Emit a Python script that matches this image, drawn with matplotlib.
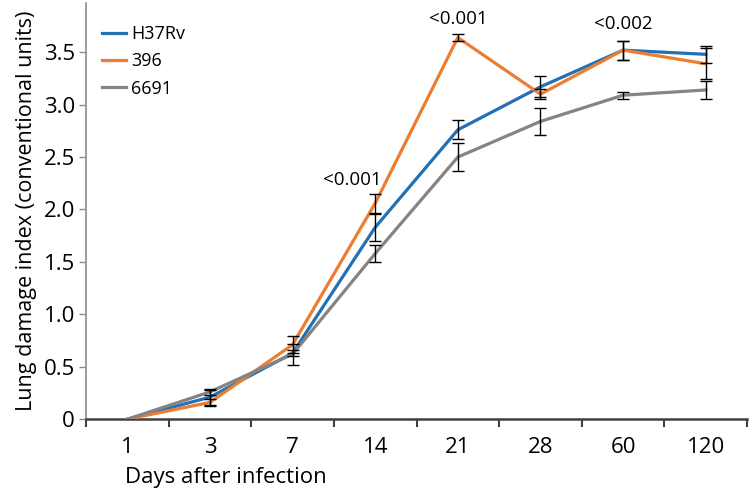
import numpy as np
import matplotlib
matplotlib.use("Agg")
import matplotlib.pyplot as plt
from matplotlib.ticker import FixedLocator, NullFormatter, FixedFormatter

plt.rcParams['font.family'] = ['Open Sans', 'DejaVu Sans']

# Data
days = ['1', '3', '7', '14', '21', '28', '60', '120']
h37rv = [0, 0.21, 0.63, 1.83, 2.76, 3.17, 3.52, 3.48]
h37rv_err = [0, 0.07, 0.03, 0.13, 0.09, 0.10, 0.09, 0.08]
s396 = [0, 0.16, 0.71, 2.06, 3.64, 3.10, 3.52, 3.39]
s396_err = [0, 0.03, 0.08, 0.09, 0.03, 0.05, 0.09, 0.15]
s6691 = [0, 0.26, 0.62, 1.58, 2.50, 2.84, 3.09, 3.14]
s6691_err = [0, 0.03, 0.10, 0.08, 0.13, 0.13, 0.035, 0.09]

pvals = ['<0.001', '<0.001', '<0.002']
pval_pos = [(2.72, 2.28), (4.0, 3.82), (6.0, 3.77)]

series = [('H37Rv', h37rv, h37rv_err, '#2470B5'),
          ('396', s396, s396_err, '#ED7D31'),
          ('6691', s6691, s6691_err, '#848484')]

fig = plt.figure(figsize=(7.5, 4.92), dpi=100)
ax = fig.add_axes([0.1147, 0.148, 0.8813, 0.846])

x = np.arange(len(days))
for name, vals, err, col in series:
    ax.plot(x, vals, color=col, lw=2.3, label=name, zorder=3)
for name, vals, err, col in series:
    ax.errorbar(x[1:], vals[1:], yerr=err[1:], fmt='none', ecolor='black',
                elinewidth=1, capsize=4, capthick=1, zorder=4)

for txt, (px, py) in zip(pvals, pval_pos):
    ax.text(px, py, txt, ha='center', va='center', fontsize=13.5)

ax.set_xlim(-0.5, 7.5)
ax.set_ylim(0, 3.97)
ax.set_yticks([0, 0.5, 1.0, 1.5, 2.0, 2.5, 3.0, 3.5])
ax.set_yticklabels(['0', '0.5', '1.0', '1.5', '2.0', '2.5', '3.0', '3.5'])

ax.xaxis.set_major_locator(FixedLocator(np.arange(-0.5, 8, 1)))
ax.xaxis.set_major_formatter(NullFormatter())
ax.xaxis.set_minor_locator(FixedLocator(x))
ax.xaxis.set_minor_formatter(FixedFormatter(days))
ax.tick_params(axis='x', which='major', length=6, width=1.5, color='#404040', direction='out')
ax.tick_params(axis='x', which='minor', length=0, pad=13, labelsize=16)
ax.tick_params(axis='y', length=5, width=1, color='#8c8c8c', labelsize=16, pad=3)

for s in ['top', 'right']:
    ax.spines[s].set_visible(False)
ax.spines['left'].set_color('#8c8c8c')
ax.spines['left'].set_linewidth(1.2)
ax.spines['bottom'].set_color('#404040')
ax.spines['bottom'].set_linewidth(1.8)

ax.set_ylabel('Lung damage index (conventional units)', fontsize=15.5, labelpad=5)
fig.text(125 / 750, 1 - 477 / 492, 'Days after infection', fontsize=16, ha='left', va='center')

ax.legend(loc='upper left', bbox_to_anchor=(0.0, 0.985), frameon=False, fontsize=13,
          handlelength=1.3, handletextpad=0.3, labelspacing=0.5, borderaxespad=0.5)

fig.savefig('out.png', dpi=100)
